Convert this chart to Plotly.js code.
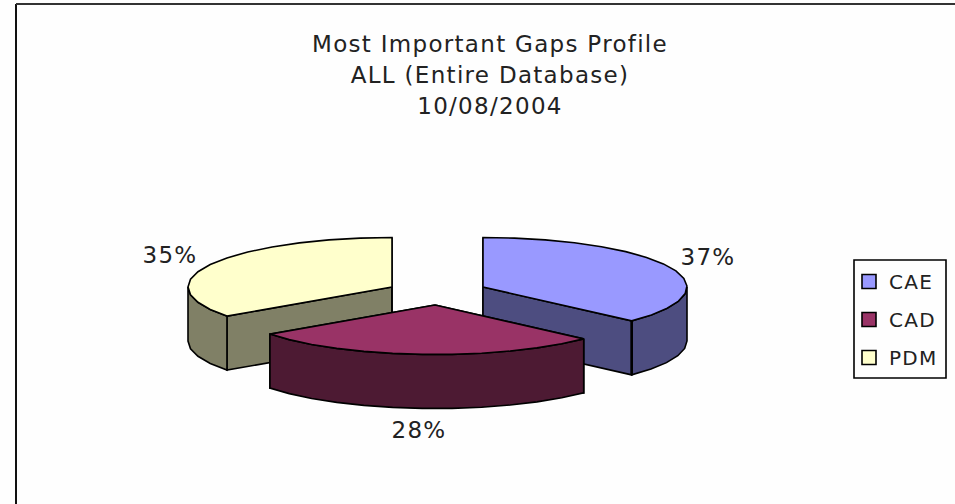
<!DOCTYPE html>
<html>
<head>
<meta charset="utf-8">
<script src="https://cdn.plot.ly/plotly-3.0.1.min.js"></script>
<style>
html,body{margin:0;padding:0;background:#fff;}
#chart{width:955px;height:504px;}
#chart text{letter-spacing:1.3px;}
</style>
</head>
<body>
<div id="chart"></div>
<script>
var categories = ['CAE', 'CAD', 'PDM'];
var values = [37, 28, 35];
var titleLines = ['Most Important Gaps Profile', 'ALL (Entire Database)', '10/08/2004'];

var topColors = ['#9999FF', '#993366', '#FFFFCC'];
var sideColors = ['#4D4D80', '#4D1A33', '#808066'];

// Projection of the exploded 3-D pie, in plot units
var apexX = [483, 435, 392];
var apexY = [287, 305, 287];
var labelX = [708, 419, 170];
var labelY = [259, 432, 257];
var RX = 204, RY = 49.5, DEPTH = 54, STEP = 9;
var DRAW_ORDER = [2, 0, 1];

var total = values.reduce(function (a, b) { return a + b; }, 0);
var starts = [], cum = 0;
values.forEach(function (v) { starts.push(cum / total * 360); cum += v; });

function arc(i, a0, a1, dz) {
  var xs = [], ys = [], n = Math.max(1, Math.ceil(Math.abs(a1 - a0) / STEP));
  for (var k = 0; k <= n; k++) {
    var a = (a0 + (a1 - a0) * k / n) * Math.PI / 180;
    xs.push(apexX[i] + RX * Math.sin(a));
    ys.push(apexY[i] - RY * Math.cos(a) + dz);
  }
  return { x: xs, y: ys };
}
function poly(xs, ys, color, name) {
  return {
    type: 'scatter', mode: 'lines', x: xs.concat([xs[0]]), y: ys.concat([ys[0]]),
    fill: 'toself', fillcolor: color, line: { color: '#000', width: 1.6 },
    showlegend: false, hoverinfo: 'text', text: name, name: name
  };
}

var traces = [];
DRAW_ORDER.forEach(function (i) {
  var a0 = starts[i], a1 = a0 + values[i] / total * 360, name = categories[i];
  // cut faces that look toward the viewer
  [a0, a1].forEach(function (a) {
    var r = a * Math.PI / 180, ex = apexX[i] + RX * Math.sin(r), ey = apexY[i] - RY * Math.cos(r);
    traces.push(poly([apexX[i], ex, ex, apexX[i]],
                     [apexY[i], ey, ey + DEPTH, apexY[i] + DEPTH], sideColors[i], name));
  });
  // outer wall: the part of the rim on the near half of the ellipse
  var w0 = Math.max(a0, 90), w1 = Math.min(a1, 270);
  if (w1 > w0) {
    var t = arc(i, w0, w1, 0), b = arc(i, w1, w0, DEPTH);
    traces.push(poly(t.x.concat(b.x), t.y.concat(b.y), sideColors[i], name));
  }
  // top surface
  var s = arc(i, a0, a1, 0);
  traces.push(poly([apexX[i]].concat(s.x), [apexY[i]].concat(s.y), topColors[i], name));
});

// Heavier vertical edge where the first slice's cut face meets its wall
(function () {
  var r = values[0] / total * 2 * Math.PI, ex = apexX[0] + RX * Math.sin(r), ey = apexY[0] - RY * Math.cos(r);
  traces.splice(DRAW_ORDER.length + 4 + 3, 0, {
    type: 'scatter', mode: 'lines', x: [ex, ex], y: [ey, ey + DEPTH],
    line: { color: '#000', width: 2.6 }, showlegend: false, hoverinfo: 'skip'
  });
})();

// Percent labels
traces.push({
  type: 'scatter', mode: 'text', x: labelX, y: labelY,
  text: values.map(function (v) { return Math.round(v / total * 100) + '%'; }),
  textfont: { family: 'DejaVu Sans', size: 23, color: '#222' },
  textposition: 'middle center', showlegend: false, hoverinfo: 'skip'
});

// Legend entries
categories.forEach(function (c, i) {
  traces.push({
    type: 'scatter', mode: 'markers', x: [null], y: [null], name: c, legendgroup: c,
    marker: { symbol: 'square', size: 14, color: topColors[i], line: { color: '#000', width: 1.6 } },
    hoverinfo: 'skip'
  });
});

var titleText = titleLines.map(function (t) {
  return '<span style="font-size:23px">' + t + '</span>';
}).join('<br>');

var layout = {
  width: 955, height: 504,
  margin: { l: 0, r: 0, t: 0, b: 0 },
  paper_bgcolor: '#fff', plot_bgcolor: '#fefefe',
  font: { family: 'DejaVu Sans', color: '#222' },
  title: {
    text: titleText, font: { family: 'DejaVu Sans', size: 24, color: '#222' },
    x: 490 / 955, xanchor: 'center', y: 1 - 52 / 504, yanchor: 'top'
  },
  xaxis: { range: [0, 955], visible: false, fixedrange: true },
  yaxis: { range: [504, 0], visible: false, fixedrange: true },
  showlegend: true,
  legend: {
    x: 849 / 955, xanchor: 'left', y: 1 - 262 / 504, yanchor: 'top',
    bgcolor: 'rgba(0,0,0,0)', borderwidth: 0,
    font: { family: 'DejaVu Sans', size: 20, color: '#222' },
    tracegroupgap: 9, itemwidth: 30, traceorder: 'grouped'
  },
  shapes: [
    { type: 'line', xref: 'x', yref: 'y', x0: 16, x1: 16, y0: 4, y1: 504, line: { color: '#111', width: 2 } },
    { type: 'line', xref: 'x', yref: 'y', x0: 16, x1: 955, y0: 4, y1: 4, line: { color: '#333', width: 2 } },
    { type: 'rect', xref: 'x', yref: 'y', x0: 854, x1: 946, y0: 260, y1: 378, line: { color: '#000', width: 1.6 }, fillcolor: '#fefefe', layer: 'below' }
  ],
  hovermode: 'closest'
};

Plotly.newPlot('chart', traces, layout, { displayModeBar: false, responsive: false });
</script>
</body>
</html>
